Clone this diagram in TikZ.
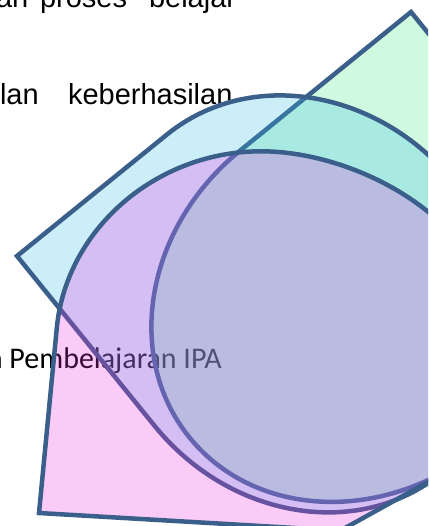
\documentclass[tikz,border=0pt]{standalone}
\usepackage{fontspec}
\newfontfamily\arialf{Liberation Sans}
\newfontfamily\calibrif{Carlito}
\definecolor{edgec}{HTML}{3A5F8A}
\definecolor{gfill}{RGB}{67,235,127}
\definecolor{cfill}{RGB}{51,187,231}
\definecolor{pfill}{RGB}{239,47,227}
\tikzset{
  blob/.style={draw=edgec, line width=4.5pt, fill opacity=0.25, line join=miter},
  bodytext/.style={anchor=base west, inner sep=0pt, outer sep=0pt, font=\arialf\fontsize{29}{32}\selectfont},
  calibritext/.style={anchor=base west, inner sep=0pt, outer sep=0pt, font=\calibrif\fontsize{30}{33}\selectfont}
}
% teardrop: #1 style, (#2,#3) sharp corner, (#4,#5) and (#6,#7) the two straight edges
\newcommand{\tdrop}[7]{%
  \pgfmathsetmacro{\tdOx}{(#2)+(#4)+(#6)}%
  \pgfmathsetmacro{\tdOy}{(#3)+(#5)+(#7)}%
  \pgfmathsetmacro{\tdux}{-1*(#4)}\pgfmathsetmacro{\tduy}{-1*(#5)}%
  \pgfmathsetmacro{\tdvx}{#6}\pgfmathsetmacro{\tdvy}{#7}%
  \def\tdk{0.5523}%
  \path[#1] (#2,#3)
    -- ({\tdOx+(\tdux)},{\tdOy+(\tduy)})
    .. controls ({\tdOx+(\tdux)+\tdk*(\tdvx)},{\tdOy+(\tduy)+\tdk*(\tdvy)}) and ({\tdOx+\tdk*(\tdux)+(\tdvx)},{\tdOy+\tdk*(\tduy)+(\tdvy)}) .. ({\tdOx+(\tdvx)},{\tdOy+(\tdvy)})
    .. controls ({\tdOx+(\tdvx)-\tdk*(\tdux)},{\tdOy+(\tdvy)-\tdk*(\tduy)}) and ({\tdOx-(\tdux)+\tdk*(\tdvx)},{\tdOy-(\tduy)+\tdk*(\tdvy)}) .. ({\tdOx-(\tdux)},{\tdOy-(\tduy)})
    .. controls ({\tdOx-(\tdux)-\tdk*(\tdvx)},{\tdOy-(\tduy)-\tdk*(\tdvy)}) and ({\tdOx-\tdk*(\tdux)-(\tdvx)},{\tdOy-\tdk*(\tduy)-(\tdvy)}) .. ({\tdOx-(\tdvx)},{\tdOy-(\tdvy)})
    -- cycle;
}
\begin{document}
\begin{tikzpicture}[x=1pt,y=-1pt]
\useasboundingbox (0,0) rectangle (428,526);
\clip (0,0) rectangle (428,526);
% text (under the shapes)
\node[bodytext] (t1a) at (-4,8) {an};
\node[bodytext] (t1b) at (40,8) {proses};
\node[bodytext] (t1c) at (149,8) {belajar};
\node[bodytext] (t2a) at (0,105) {lan};
\node[bodytext] (t2b) at (68,105) {keberhasilan};
\node[calibritext] (t3) at (-11.7,368) {a Pembelajaran IPA};
% green teardrop (bottom layer)
\tdrop{blob, fill=gfill}{411}{12}{-170.9}{138.6}{120.3}{148.3}
% cyan teardrop (middle layer)
\tdrop{blob, fill=cfill}{17}{256}{137.2}{169.4}{150.0}{-121.5}
% pink shape (top layer)
\path[blob, fill=pfill] (39,513) -- (56.8,327.9)
  .. controls (66.6,225.7) and (162.3,146.7) .. (270.4,151.5)
  .. controls (370,156) and (500,230) .. (500,350)
  .. controls (500,420) and (465,462) .. (428,482)
  -- (346,527.5) .. controls (343,529.5) and (340,530.5) .. (334,530.3) -- cycle;
\end{tikzpicture}
\end{document}
